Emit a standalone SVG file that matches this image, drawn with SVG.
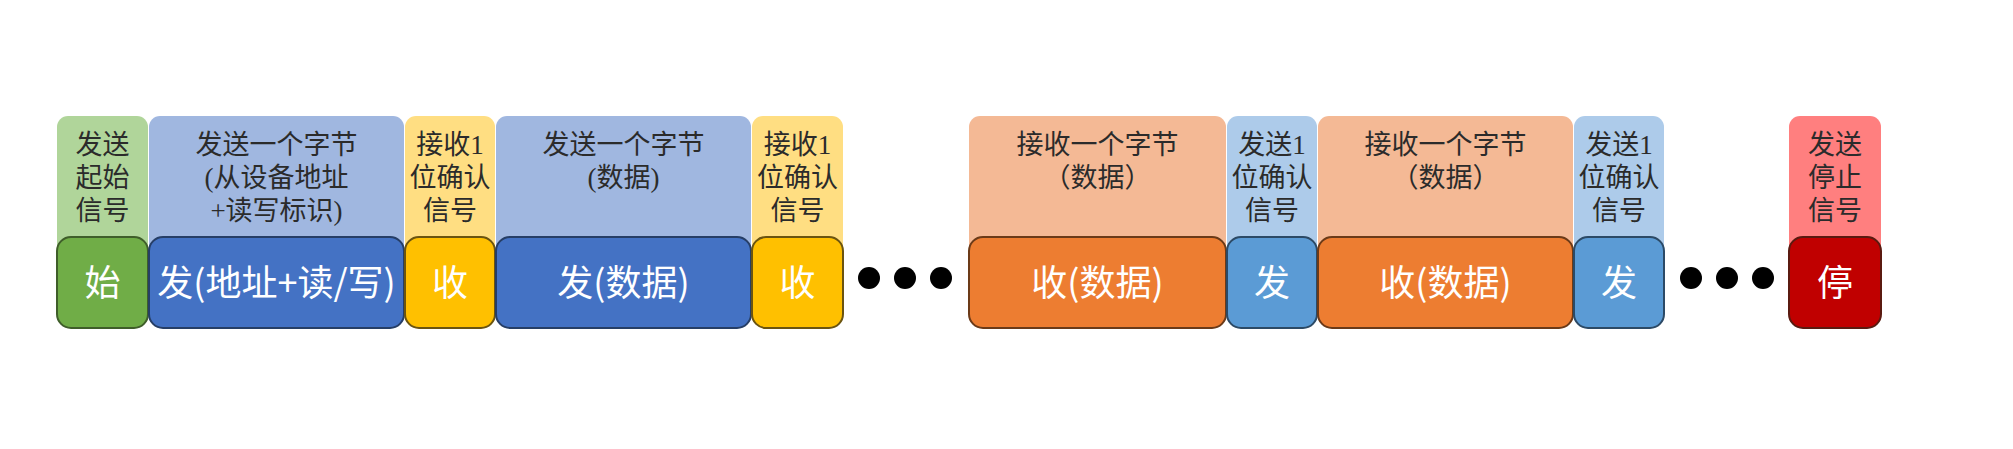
<svg xmlns="http://www.w3.org/2000/svg" width="2013" height="449" viewBox="0 0 2013 449">
<style>
.top{stroke:none}
.bot{stroke-width:2}
.lbl{font-family:"Liberation Serif","Noto Sans CJK SC",serif;font-size:27px;fill:#2b2b2b;text-anchor:middle}
.big{font-family:"Noto Sans CJK SC","Liberation Sans",sans-serif;font-size:36px;fill:#ffffff;text-anchor:middle}
</style>
<rect width="2013" height="449" fill="#ffffff"/>
<g id="n-start">
<rect class="top" x="57" y="116" width="91" height="180" rx="11" fill="#B0D59A"/>
<text class="lbl" x="102.5" y="154">发送</text>
<text class="lbl" x="102.5" y="187">起始</text>
<text class="lbl" x="102.5" y="220">信号</text>
<rect class="bot" x="57" y="237" width="91" height="91" rx="14" fill="#70AD47" stroke="#3F5E2A"/>
<text class="big" x="102.5" y="296">始</text>
</g>
<g id="n-addr">
<rect class="top" x="149" y="116" width="255" height="180" rx="11" fill="#A0B7E0"/>
<text class="lbl" x="276.5" y="154">发送一个字节</text>
<text class="lbl" x="276.5" y="187">(从设备地址</text>
<text class="lbl" x="276.5" y="220">+读写标识)</text>
<rect class="bot" x="149" y="237" width="255" height="91" rx="14" fill="#4472C4" stroke="#263E66"/>
<text class="big" x="276.5" y="296">发(地址+读/写)</text>
</g>
<g id="n-ack1">
<rect class="top" x="405" y="116" width="90" height="180" rx="11" fill="#FFDE82"/>
<text class="lbl" x="450" y="154">接收1</text>
<text class="lbl" x="450" y="187">位确认</text>
<text class="lbl" x="450" y="220">信号</text>
<rect class="bot" x="405" y="237" width="90" height="91" rx="14" fill="#FFC000" stroke="#6B5410"/>
<text class="big" x="450" y="296">收</text>
</g>
<g id="n-data-send">
<rect class="top" x="496" y="116" width="255" height="180" rx="11" fill="#A0B7E0"/>
<text class="lbl" x="623.5" y="154">发送一个字节</text>
<text class="lbl" x="623.5" y="187">(数据)</text>
<rect class="bot" x="496" y="237" width="255" height="91" rx="14" fill="#4472C4" stroke="#263E66"/>
<text class="big" x="623.5" y="296">发(数据)</text>
</g>
<g id="n-ack2">
<rect class="top" x="752" y="116" width="91" height="180" rx="11" fill="#FFDE82"/>
<text class="lbl" x="797.5" y="154">接收1</text>
<text class="lbl" x="797.5" y="187">位确认</text>
<text class="lbl" x="797.5" y="220">信号</text>
<rect class="bot" x="752" y="237" width="91" height="91" rx="14" fill="#FFC000" stroke="#6B5410"/>
<text class="big" x="797.5" y="296">收</text>
</g>
<g id="n-dots1">
<circle cx="869" cy="278" r="11" fill="#000"/>
<circle cx="905" cy="278" r="11" fill="#000"/>
<circle cx="941" cy="278" r="11" fill="#000"/>
</g>
<g id="n-data-recv1">
<rect class="top" x="969" y="116" width="257" height="180" rx="11" fill="#F4B995"/>
<text class="lbl" x="1097.5" y="154">接收一个字节</text>
<text class="lbl" x="1097.5" y="187">（数据）</text>
<rect class="bot" x="969" y="237" width="257" height="91" rx="14" fill="#ED7D31" stroke="#6B3A18"/>
<text class="big" x="1097.5" y="296">收(数据)</text>
</g>
<g id="n-ackout1">
<rect class="top" x="1227" y="116" width="90" height="180" rx="11" fill="#ADCBEA"/>
<text class="lbl" x="1272" y="154">发送1</text>
<text class="lbl" x="1272" y="187">位确认</text>
<text class="lbl" x="1272" y="220">信号</text>
<rect class="bot" x="1227" y="237" width="90" height="91" rx="14" fill="#5B9BD5" stroke="#2C4A66"/>
<text class="big" x="1272" y="296">发</text>
</g>
<g id="n-data-recv2">
<rect class="top" x="1318" y="116" width="255" height="180" rx="11" fill="#F4B995"/>
<text class="lbl" x="1445.5" y="154">接收一个字节</text>
<text class="lbl" x="1445.5" y="187">（数据）</text>
<rect class="bot" x="1318" y="237" width="255" height="91" rx="14" fill="#ED7D31" stroke="#6B3A18"/>
<text class="big" x="1445.5" y="296">收(数据)</text>
</g>
<g id="n-ackout2">
<rect class="top" x="1574" y="116" width="90" height="180" rx="11" fill="#ADCBEA"/>
<text class="lbl" x="1619" y="154">发送1</text>
<text class="lbl" x="1619" y="187">位确认</text>
<text class="lbl" x="1619" y="220">信号</text>
<rect class="bot" x="1574" y="237" width="90" height="91" rx="14" fill="#5B9BD5" stroke="#2C4A66"/>
<text class="big" x="1619" y="296">发</text>
</g>
<g id="n-dots2">
<circle cx="1691" cy="278" r="11" fill="#000"/>
<circle cx="1727" cy="278" r="11" fill="#000"/>
<circle cx="1763" cy="278" r="11" fill="#000"/>
</g>
<g id="n-stop">
<rect class="top" x="1789" y="116" width="92" height="180" rx="11" fill="#FF7F7F"/>
<text class="lbl" x="1835" y="154">发送</text>
<text class="lbl" x="1835" y="187">停止</text>
<text class="lbl" x="1835" y="220">信号</text>
<rect class="bot" x="1789" y="237" width="92" height="91" rx="14" fill="#C00000" stroke="#5A1A10"/>
<text class="big" x="1835" y="296">停</text>
</g>
<g id="connectors"></g>
</svg>
